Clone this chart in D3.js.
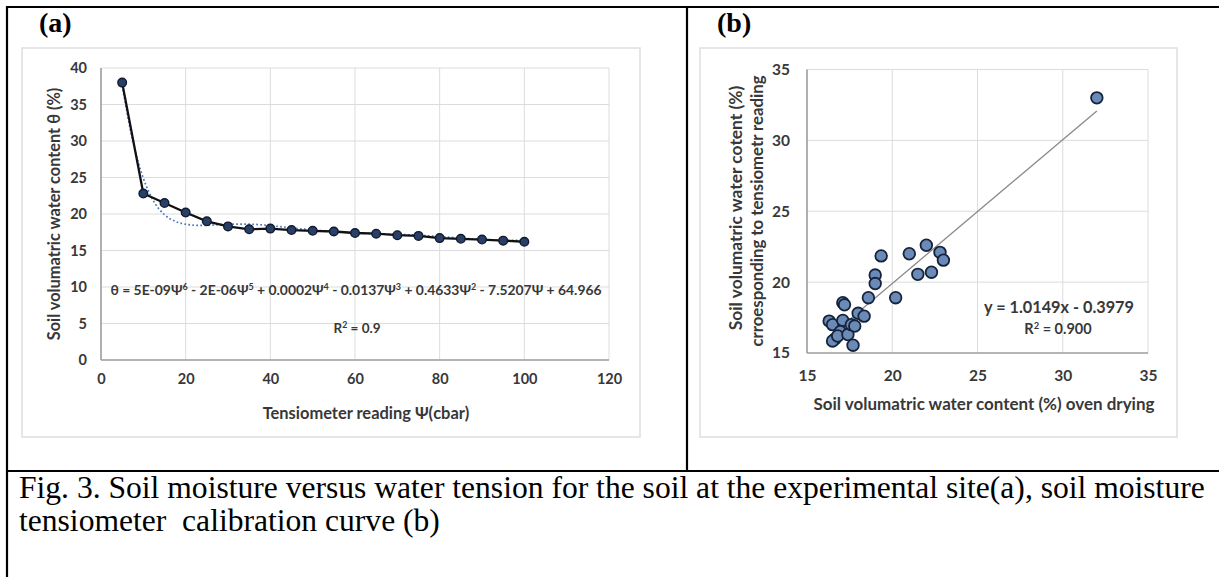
<!DOCTYPE html>
<html>
<head>
<meta charset="utf-8">
<script src="https://cdn.jsdelivr.net/npm/d3@7"></script>
<style>
  html, body { margin: 0; padding: 0; background: #fff; }
  svg { display: block; }
</style>
</head>
<body>
<svg id="fig" width="1219" height="577"></svg>
<script>
// ---------- DATA ----------
// Panel (a): tensiometer reading (cbar) vs soil water content (%)
const tensionA = [5, 10, 15, 20, 25, 30, 35, 40, 45, 50, 55, 60, 65, 70, 75, 80, 85, 90, 95, 100];
const thetaA   = [38.0, 22.8, 21.5, 20.2, 19.0, 18.3, 17.9, 18.0, 17.8, 17.7, 17.6, 17.4, 17.3, 17.1, 17.0, 16.7, 16.6, 16.5, 16.35, 16.2];
// Panel (a): polynomial trend line
const trendX = [5, 7.5, 10, 12.5, 15, 17.5, 20, 22.5, 25, 30, 35, 40, 45, 50, 55, 60, 65, 70, 75, 80, 85, 90, 95, 100];
const trendY = [37.6, 30.0, 24.9, 21.7, 19.9, 19.0, 18.6, 18.45, 18.45, 18.6, 18.6, 18.4, 18.1, 17.8, 17.6, 17.4, 17.3, 17.2, 17.1, 16.9, 16.7, 16.5, 16.4, 16.4];
const xTicksA = [0, 20, 40, 60, 80, 100, 120];
const yTicksA = [0, 5, 10, 15, 20, 25, 30, 35, 40];

// Panel (b): oven drying vs tensiometer-derived water content (%)
const ovenB = [16.3, 16.5, 17.1, 17.1, 17.2, 16.95, 16.65, 16.5, 16.8, 17.4, 17.6, 17.8, 17.7, 18.0, 18.35, 18.6, 19.0, 19.0, 19.35, 20.2, 21.0, 21.5, 22.0, 22.3, 22.8, 23.0, 32.0];
const tensB = [17.25, 17.0, 17.3, 18.55, 18.4, 16.5, 16.0, 15.85, 16.2, 16.3, 17.0, 16.9, 15.55, 17.8, 17.6, 18.9, 20.5, 19.9, 21.85, 18.9, 22.0, 20.55, 22.6, 20.7, 22.1, 21.55, 33.0];
const slopeB = 1.0149, interceptB = -0.3979;
const xTicksB = [15, 20, 25, 30, 35];
const yTicksB = [15, 20, 25, 30, 35];

const captionLines = [
  "Fig. 3. Soil moisture versus water tension for the soil at the experimental site(a), soil moisture",
  "tensiometer\u00a0 calibration curve (b)"
];

// ---------- DRAW ----------
const svg = d3.select("#fig");
const FONT = "Lato, 'Open Sans', sans-serif";
const SERIF = "'Liberation Serif', 'Times New Roman', serif";
const TXT = "#383838";
const GRID = "#dcdcdc";
const AXIS = "#a0a0a0";

function fitWidth(sel, target) {
  const w = sel.node().getBBox().width;
  const fs = parseFloat(sel.attr("font-size"));
  sel.attr("font-size", fs * target / w);
}

// table borders
const border = svg.append("g").attr("stroke", "#000").attr("stroke-width", 2.2);
border.append("line").attr("x1", 6).attr("x2", 1219).attr("y1", 7).attr("y2", 7);
border.append("line").attr("x1", 7).attr("x2", 7).attr("y1", 6).attr("y2", 577);
border.append("line").attr("x1", 687).attr("x2", 687).attr("y1", 7).attr("y2", 471);
border.append("line").attr("x1", 7).attr("x2", 1219).attr("y1", 471).attr("y2", 471);

// panel labels
svg.append("text").attr("x", 39).attr("y", 32).attr("font-family", SERIF)
  .attr("font-weight", "bold").attr("font-size", 28).attr("fill", "#000").text("(a)");
svg.append("text").attr("x", 717).attr("y", 32).attr("font-family", SERIF)
  .attr("font-weight", "bold").attr("font-size", 28).attr("fill", "#000").text("(b)");

// chart areas
svg.append("rect").attr("x", 22).attr("y", 48).attr("width", 618).attr("height", 389)
  .attr("fill", "#fff").attr("stroke", "#dedede").attr("stroke-width", 1.5);
svg.append("rect").attr("x", 700).attr("y", 48).attr("width", 477).attr("height", 389)
  .attr("fill", "#fff").attr("stroke", "#dedede").attr("stroke-width", 1.5);

function supText(sel, parts) {
  parts.forEach(([t, s]) => {
    sel.append("tspan").text(t);
    if (s) sel.append("tspan").attr("font-size", "0.65em").attr("baseline-shift", "super").text(s);
  });
}

// ===== Panel (a) =====
const xA = d3.scaleLinear().domain([0, 120]).range([101, 609]);
const yA = d3.scaleLinear().domain([0, 40]).range([360, 68]);
const gA = svg.append("g");

gA.append("g").selectAll("line").data(yTicksA).join("line")
  .attr("x1", xA(0)).attr("x2", xA(120)).attr("y1", d => yA(d)).attr("y2", d => yA(d))
  .attr("stroke", GRID).attr("stroke-width", 1);
gA.append("g").selectAll("line").data(xTicksA).join("line")
  .attr("x1", d => xA(d)).attr("x2", d => xA(d)).attr("y1", yA(0)).attr("y2", yA(40))
  .attr("stroke", GRID).attr("stroke-width", 1);

const axAx = gA.append("g").attr("transform", `translate(0,${yA(0)})`)
  .call(d3.axisBottom(xA).tickValues(xTicksA).tickSize(0).tickPadding(14).tickFormat(d3.format("d")));
const axAy = gA.append("g").attr("transform", `translate(${xA(0)},0)`)
  .call(d3.axisLeft(yA).tickValues(yTicksA).tickSize(0).tickPadding(14).tickFormat(d3.format("d")));
[axAx, axAy].forEach(a => {
  a.select(".domain").attr("stroke", AXIS).attr("stroke-width", 1.6);
  a.selectAll("text").attr("font-family", FONT).attr("font-weight", "bold").attr("font-size", 14.5).attr("fill", TXT);
});
axAx.select(".domain").attr("d", `M${xA(0)},0H${xA(120)}`);
axAy.select(".domain").attr("d", `M0,${yA(0)}V${yA(40)}`);

// trend (dotted)
const trendPts = trendX.map((x, i) => [x, trendY[i]]);
gA.append("path").datum(trendPts)
  .attr("d", d3.line().x(d => xA(d[0])).y(d => yA(d[1])).curve(d3.curveMonotoneX))
  .attr("fill", "none").attr("stroke", "#4a74c0").attr("stroke-width", 1.7).attr("stroke-dasharray", "1.7,2.3");

// data line
const ptsA = tensionA.map((x, i) => [x, thetaA[i]]);
gA.append("path").datum(ptsA)
  .attr("d", d3.line().x(d => xA(d[0])).y(d => yA(d[1])))
  .attr("fill", "none").attr("stroke", "#111").attr("stroke-width", 2.3);
gA.append("g").selectAll("circle").data(ptsA).join("circle")
  .attr("cx", d => xA(d[0])).attr("cy", d => yA(d[1])).attr("r", 4.3)
  .attr("fill", "#2a3f66").attr("stroke", "#101a2e").attr("stroke-width", 1.4);

// axis titles (a)
const xtA = gA.append("text").attr("x", 366).attr("y", 419).attr("text-anchor", "middle")
  .attr("font-family", FONT).attr("font-weight", "bold").attr("font-size", 14).attr("fill", TXT)
  .text("Tensiometer reading \u03a8(cbar)");
fitWidth(xtA, 207);
const ytA = gA.append("text").attr("transform", "translate(60,214) rotate(-90)").attr("text-anchor", "middle")
  .attr("font-family", FONT).attr("font-weight", "bold").attr("font-size", 14).attr("fill", TXT)
  .text("Soil volumatric water content \u03b8 (%)");
fitWidth(ytA, 253);

// equation (a)
const eqA = gA.append("text").attr("x", 356).attr("y", 295).attr("text-anchor", "middle")
  .attr("font-family", FONT).attr("font-weight", "bold").attr("font-size", 13).attr("fill", TXT);
supText(eqA, [["\u03b8 = 5E-09\u03a8", "6"], [" - 2E-06\u03a8", "5"], [" + 0.0002\u03a8", "4"], [" - 0.0137\u03a8", "3"],
  [" + 0.4633\u03a8", "2"], [" - 7.5207\u03a8 + 64.966", null]]);
fitWidth(eqA, 492);
const r2A = gA.append("text").attr("x", 357).attr("y", 333).attr("text-anchor", "middle")
  .attr("font-family", FONT).attr("font-weight", "bold").attr("font-size", 13.5).attr("fill", TXT);
supText(r2A, [["R", "2"], [" = 0.9", null]]);

// ===== Panel (b) =====
const xB = d3.scaleLinear().domain([15, 35]).range([807, 1148]);
const yB = d3.scaleLinear().domain([15, 35]).range([353, 69.5]);
const gB = svg.append("g");

gB.append("g").selectAll("line").data(yTicksB).join("line")
  .attr("x1", xB(15)).attr("x2", xB(35)).attr("y1", d => yB(d)).attr("y2", d => yB(d))
  .attr("stroke", GRID).attr("stroke-width", 1);
gB.append("g").selectAll("line").data(xTicksB).join("line")
  .attr("x1", d => xB(d)).attr("x2", d => xB(d)).attr("y1", yB(15)).attr("y2", yB(35))
  .attr("stroke", GRID).attr("stroke-width", 1);

const axBx = gB.append("g").attr("transform", `translate(0,${yB(15)})`)
  .call(d3.axisBottom(xB).tickValues(xTicksB).tickSize(0).tickPadding(17).tickFormat(d3.format("d")));
const axBy = gB.append("g").attr("transform", `translate(${xB(15)},0)`)
  .call(d3.axisLeft(yB).tickValues(yTicksB).tickSize(0).tickPadding(17).tickFormat(d3.format("d")));
[axBx, axBy].forEach(a => {
  a.select(".domain").attr("stroke", AXIS).attr("stroke-width", 1.6);
  a.selectAll("text").attr("font-family", FONT).attr("font-weight", "bold").attr("font-size", 15.5).attr("fill", TXT);
});
axBx.select(".domain").attr("d", `M${xB(15)},0H${xB(35)}`);
axBy.select(".domain").attr("d", `M0,${yB(15)}V${yB(35)}`);

// regression line
const xMin = d3.min(ovenB), xMax = d3.max(ovenB);
gB.append("line")
  .attr("x1", xB(xMin)).attr("y1", yB(slopeB * xMin + interceptB))
  .attr("x2", xB(xMax)).attr("y2", yB(slopeB * xMax + interceptB))
  .attr("stroke", "#8a8a8a").attr("stroke-width", 1.3);

// points
gB.append("g").selectAll("circle").data(ovenB.map((x, i) => [x, tensB[i]])).join("circle")
  .attr("cx", d => xB(d[0])).attr("cy", d => yB(d[1])).attr("r", 5.8)
  .attr("fill", "#6a8bb8").attr("stroke", "#17233b").attr("stroke-width", 1.8);

// axis titles (b)
const xtB = gB.append("text").attr("x", 984).attr("y", 410).attr("text-anchor", "middle")
  .attr("font-family", FONT).attr("font-weight", "bold").attr("font-size", 14).attr("fill", TXT)
  .text("Soil volumatric water content (%) oven drying");
fitWidth(xtB, 342);
const ytB1 = gB.append("text").attr("transform", "translate(742,208) rotate(-90)").attr("text-anchor", "middle")
  .attr("font-family", FONT).attr("font-weight", "bold").attr("font-size", 14).attr("fill", TXT)
  .text("Soil volumatric water cotent (%)");
fitWidth(ytB1, 245);
const ytB2 = gB.append("text").attr("transform", "translate(763,211) rotate(-90)").attr("text-anchor", "middle")
  .attr("font-family", FONT).attr("font-weight", "bold").attr("font-size", 14).attr("fill", TXT)
  .text("crroesponding to tensiometr reading");
fitWidth(ytB2, 272);

// equation (b)
const eqB = gB.append("text").attr("x", 1059).attr("y", 313).attr("text-anchor", "middle")
  .attr("font-family", FONT).attr("font-weight", "bold").attr("font-size", 14).attr("fill", TXT)
  .text(`y = ${slopeB.toFixed(4)}x - ${Math.abs(interceptB).toFixed(4)}`);
fitWidth(eqB, 150);
const r2B = gB.append("text").attr("x", 1058).attr("y", 334).attr("text-anchor", "middle")
  .attr("font-family", FONT).attr("font-weight", "bold").attr("font-size", 14.5).attr("fill", TXT);
supText(r2B, [["R", "2"], [" = 0.900", null]]);

// ===== Caption =====
const cap = svg.append("text").attr("font-family", SERIF).attr("font-size", 24).attr("fill", "#000");
const l1 = cap.append("tspan").attr("x", 19).attr("y", 498).text(captionLines[0]);
const w1 = l1.node().getComputedTextLength();
cap.attr("font-size", 24 * 1186 / w1);
cap.append("tspan").attr("x", 19).attr("y", 531).text(captionLines[1]);
</script>
</body>
</html>
